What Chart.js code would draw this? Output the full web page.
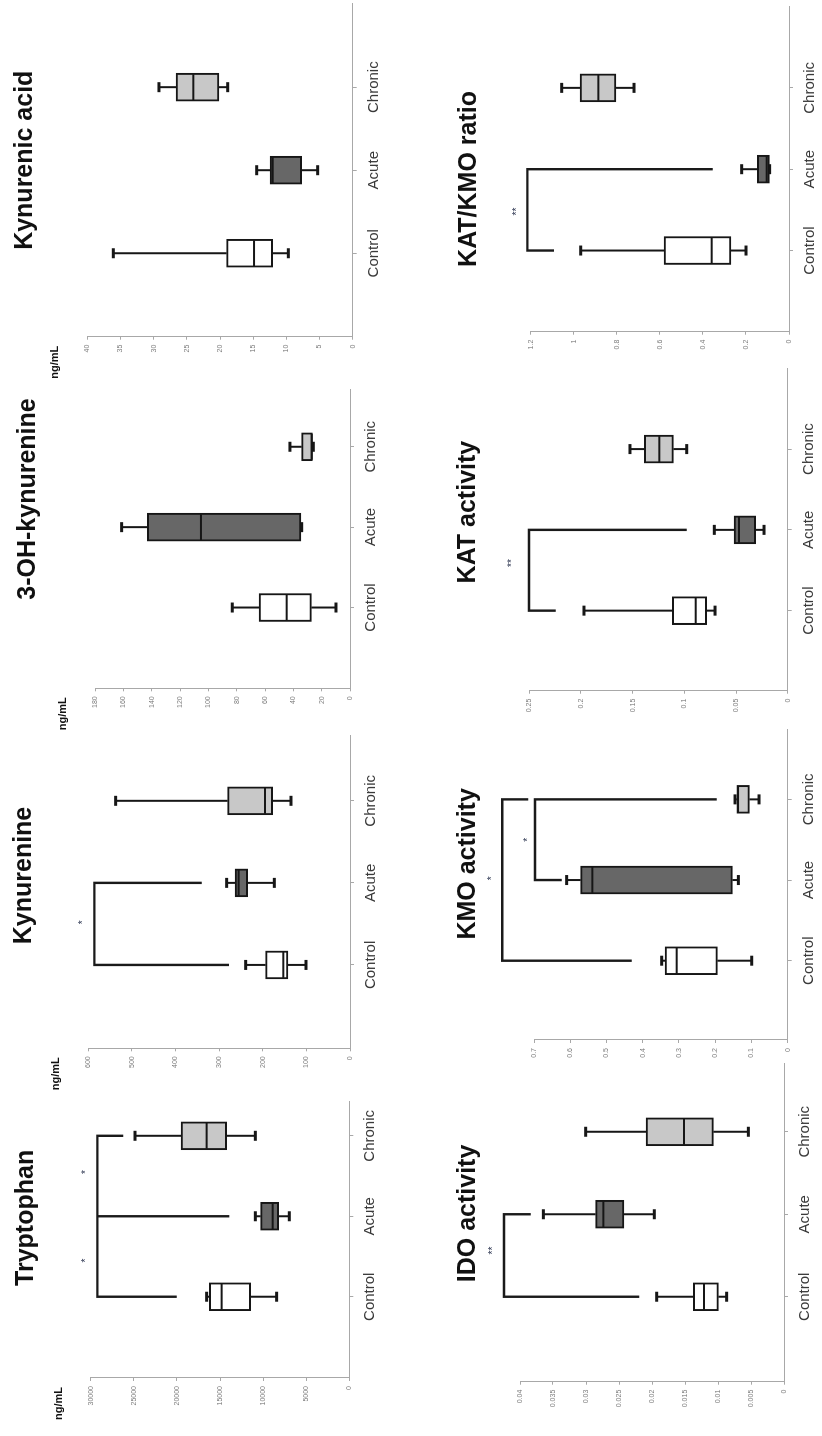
<!DOCTYPE html>
<html><head><meta charset="utf-8">
<script src="https://cdn.jsdelivr.net/npm/chart.js@4.4.1/dist/chart.umd.min.js"></script>
<style>
html,body{margin:0;padding:0;background:#fff;overflow:hidden;width:822px;height:1436px;}
#fig{position:absolute;left:0;top:0;width:1436px;height:822px;transform-origin:0 0;transform:translate(0px,1436px) rotate(-90deg);background:#fff;}
#fig canvas{position:absolute;}
</style></head><body><div id="fig"></div>
<script>
const categories = ['Control', 'Acute', 'Chronic'];
const boxColors = ['#ffffff', '#676767', '#c8c8c8'];

// each group: [lower whisker, Q1, median, Q3, upper whisker]
const tryptophanBoxes = [[8430, 11440, 14810, 16240, 16550], [6960, 8200, 8890, 10280, 10900], [10900, 14230, 16550, 19520, 24860]];
const tryptophanTicks = [0, 5000, 10000, 15000, 20000, 25000, 30000];
const tryptophanBrackets = [[29230, [[0, 20030], [1, 13920], [2, 26210]]]];
const tryptophanStars = [[0.45, 30700, '*'], [1.55, 30700, '*']];

const kynurenineBoxes = [[100.9, 142.2, 152.9, 193.4, 239.2], [173.5, 234.6, 255.3, 263.7, 282.8], [135.3, 177.3, 194.9, 280.5, 537.3]];
const kynurenineTicks = [0, 100, 200, 300, 400, 500, 600];
const kynurenineBrackets = [[586, [[0, 277.5], [1, 340]]]];
const kynurenineStars = [[0.52, 617, '*']];

const ohKynurenineBoxes = [[9.9, 27.3, 44.7, 64.2, 83.1], [34.1, 34.6, 105.2, 143.1, 161.2], [25.9, 26.6, 27.0, 34.1, 42.4]];
const ohKynurenineTicks = [0, 20, 40, 60, 80, 100, 120, 140, 160, 180];
const ohKynurenineBrackets = [];
const ohKynurenineStars = [];

const kynurenicBoxes = [[9.7, 12.06, 14.87, 19.0, 36.08], [5.28, 7.69, 12.06, 12.46, 14.47], [18.84, 20.15, 24.02, 26.63, 29.2]];
const kynurenicTicks = [0, 5, 10, 15, 20, 25, 30, 35, 40];
const kynurenicBrackets = [];
const kynurenicStars = [];

const idoBoxes = [[0.00869, 0.00995, 0.01212, 0.01374, 0.01929], [0.01965, 0.02424, 0.02737, 0.02854, 0.03646], [0.0054, 0.01071, 0.01515, 0.02091, 0.03005]];
const idoTicks = [0, 0.005, 0.01, 0.015, 0.02, 0.025, 0.03, 0.035, 0.04];
const idoBrackets = [[0.04242, [[0, 0.02192], [1, 0.03838]]]];
const idoStars = [[0.56, 0.0444, '**']];

const kmoBoxes = [[0.0993, 0.1941, 0.3063, 0.3385, 0.3477], [0.1361, 0.1527, 0.539, 0.5712, 0.6099], [0.0791, 0.1058, 0.137, 0.1407, 0.1453]];
const kmoTicks = [0, 0.1, 0.2, 0.3, 0.4, 0.5, 0.6, 0.7];
const kmoBrackets = [[0.7874, [[0, 0.4305], [2, 0.7156]]], [0.6972, [[1, 0.6237], [2, 0.1959]]]];
const kmoStars = [[1.02, 0.821, '*'], [1.5, 0.722, '*']];

const katBoxes = [[0.0703, 0.0784, 0.089, 0.1116, 0.1971], [0.0229, 0.031, 0.0471, 0.0519, 0.071], [0.0977, 0.1106, 0.1242, 0.1387, 0.1526]];
const katTicks = [0, 0.05, 0.1, 0.15, 0.2, 0.25];
const katBrackets = [[0.2503, [[0, 0.2245], [1, 0.0977]]]];
const katStars = [[0.59, 0.2687, '**']];

const ratioBoxes = [[0.1997, 0.2694, 0.3592, 0.5806, 0.9677], [0.09, 0.0914, 0.1037, 0.1471, 0.2199], [0.72, 0.8036, 0.8857, 0.9708, 1.056]];
const ratioTicks = [0, 0.2, 0.4, 0.6, 0.8, 1, 1.2];
const ratioBrackets = [[1.2155, [[0, 1.0916], [1, 0.3546]]]];
const ratioStars = [[0.48, 1.273, '**']];

const titles = ['Tryptophan', 'Kynurenine', '3-OH-kynurenine', 'Kynurenic acid', 'IDO activity', 'KMO activity', 'KAT activity', 'KAT/KMO ratio'];
const unitLabel = 'ng/mL';

const FONT = '"Liberation Sans", Arial, sans-serif';

// layout (unrotated frame): plot-area edges, category range, title placement
const panels = [
  {boxes: tryptophanBoxes, ticks: tryptophanTicks, brackets: tryptophanBrackets, stars: tryptophanStars, unit: true, left: 58, right: 334, top: 90.7, zero: 349.3, xMin: -1.01, xMax: 2.42, titleX: 0.98, titleY: 33, row: 0},
  {boxes: kynurenineBoxes, ticks: kynurenineTicks, brackets: kynurenineBrackets, stars: kynurenineStars, unit: true, left: 387.7, right: 700, top: 88.3, zero: 350, xMin: -1.016, xMax: 2.79, titleX: 1.09, titleY: 31, row: 0},
  {boxes: ohKynurenineBoxes, ticks: ohKynurenineTicks, brackets: ohKynurenineBrackets, stars: ohKynurenineStars, unit: true, left: 747.7, right: 1046.7, top: 95, zero: 350, xMin: -1.005, xMax: 2.715, titleX: 1.35, titleY: 35, row: 0},
  {boxes: kynurenicBoxes, ticks: kynurenicTicks, brackets: kynurenicBrackets, stars: kynurenicStars, unit: true, left: 1099.3, right: 1432.7, top: 87.3, zero: 352.7, xMin: -1.005, xMax: 3.01, titleX: 1.12, titleY: 32, row: 0},
  {boxes: idoBoxes, ticks: idoTicks, brackets: idoBrackets, stars: idoStars, unit: false, left: 54.3, right: 372.7, top: 520, zero: 784, xMin: -1.03, xMax: 2.83, titleX: 1.01, titleY: 475, row: 1},
  {boxes: kmoBoxes, ticks: kmoTicks, brackets: kmoBrackets, stars: kmoStars, unit: false, left: 396, right: 706, top: 534, zero: 787.7, xMin: -0.983, xMax: 2.86, titleX: 1.2, titleY: 475, row: 1},
  {boxes: katBoxes, ticks: katTicks, brackets: katBrackets, stars: katStars, unit: false, left: 745.3, right: 1067.7, top: 529.3, zero: 787.7, xMin: -0.991, xMax: 3.0, titleX: 1.22, titleY: 475, row: 1},
  {boxes: ratioBoxes, ticks: ratioTicks, brackets: ratioBrackets, stars: ratioStars, unit: false, left: 1104.3, right: 1429.3, top: 530.7, zero: 789, xMin: -0.998, xMax: 2.998, titleX: 0.88, titleY: 476, row: 1}
];

function fmt(v) { return String(parseFloat(Number(v).toFixed(6))); }

const boxPlotPlugin = {
  id: 'boxDetails',
  afterDatasetsDraw(chart, args, o) {
    const ctx = chart.ctx, x = chart.scales.x, y = chart.scales.y;
    const line = (a, b, c, d) => { ctx.beginPath(); ctx.moveTo(a, b); ctx.lineTo(c, d); ctx.stroke(); };
    ctx.save();
    ctx.strokeStyle = '#161616';
    ctx.lineCap = 'butt';
    o.boxes.forEach((b, i) => {
      const cx = x.getPixelForValue(i);
      const lo = y.getPixelForValue(b[0]), q1 = y.getPixelForValue(b[1]), md = y.getPixelForValue(b[2]), q3 = y.getPixelForValue(b[3]), hi = y.getPixelForValue(b[4]);
      ctx.lineWidth = 2;
      line(cx, q3, cx, hi);
      line(cx, q1, cx, lo);
      ctx.lineWidth = 3;
      line(cx - 5, hi, cx + 5, hi);
      line(cx - 5, lo, cx + 5, lo);
      ctx.lineWidth = 2;
      line(cx - 13, md, cx + 13, md);
    });
    ctx.lineWidth = 2.4;
    ctx.lineJoin = 'miter';
    ctx.strokeStyle = '#1a1a1a';
    o.brackets.forEach(([top, drops]) => {
      const ty = y.getPixelForValue(top);
      const first = drops[0], last = drops[drops.length - 1];
      ctx.beginPath();
      ctx.moveTo(x.getPixelForValue(first[0]), y.getPixelForValue(first[1]));
      ctx.lineTo(x.getPixelForValue(first[0]), ty);
      ctx.lineTo(x.getPixelForValue(last[0]), ty);
      ctx.lineTo(x.getPixelForValue(last[0]), y.getPixelForValue(last[1]));
      ctx.stroke();
      drops.slice(1, -1).forEach(([c, v]) => line(x.getPixelForValue(c), ty, x.getPixelForValue(c), y.getPixelForValue(v)));
    });
    ctx.fillStyle = '#2c3550';
    ctx.font = '10px ' + FONT;
    ctx.textAlign = 'center';
    ctx.textBaseline = 'middle';
    o.stars.forEach(([c, v, s]) => ctx.fillText(s, x.getPixelForValue(c), y.getPixelForValue(v) + 2));
    // panel title
    ctx.fillStyle = '#111';
    ctx.font = 'bold 25px ' + FONT;
    ctx.textAlign = 'center';
    ctx.textBaseline = 'alphabetic';
    ctx.fillText(o.title, x.getPixelForValue(o.titleX), o.titleY);
    if (o.unit) {
      ctx.font = 'bold 11px ' + FONT;
      ctx.textAlign = 'right';
      ctx.fillText(unitLabel, chart.chartArea.left - 9, chart.chartArea.top - 29);
    }
    ctx.restore();
  }
};

const fig = document.getElementById('fig');
panels.forEach((p, k) => {
  const cTop = p.row === 0 ? 0 : 411;
  const cBottom = cTop + 411;
  const cLeft = Math.floor(p.left) - 62;
  const cRight = Math.ceil(p.right) + 2;
  const cv = document.createElement('canvas');
  cv.width = cRight - cLeft;
  cv.height = cBottom - cTop;
  cv.style.left = cLeft + 'px';
  cv.style.top = cTop + 'px';
  cv.style.width = cv.width + 'px';
  cv.style.height = cv.height + 'px';
  fig.appendChild(cv);
  const tickVals = p.ticks;
  new Chart(cv, {
    type: 'bar',
    data: {
      datasets: [{
        data: p.boxes.map((b, i) => ({x: i, y: [b[1], b[3]]})),
        backgroundColor: boxColors,
        borderColor: '#161616',
        borderWidth: 2,
        borderSkipped: false,
        barThickness: 28
      }]
    },
    options: {
      responsive: false,
      animation: false,
      events: [],
      layout: {padding: {top: p.top - cTop, left: 0, right: cRight - p.right, bottom: 0}},
      plugins: {
        legend: {display: false},
        tooltip: {enabled: false},
        title: {display: false},
        boxDetails: {boxes: p.boxes, brackets: p.brackets, stars: p.stars, title: titles[k], titleX: p.titleX, titleY: p.titleY - cTop, unit: p.unit}
      },
      scales: {
        x: {
          type: 'linear', min: p.xMin, max: p.xMax, offset: false,
          afterBuildTicks: s => { s.ticks = [0, 1, 2].map(v => ({value: v})); },
          afterFit: s => { s.height = cBottom - p.zero; },
          grid: {display: true, drawOnChartArea: false, drawTicks: true, tickLength: 4, color: '#a8a8a8', offset: false},
          border: {display: true, color: '#a8a8a8', width: 1},
          ticks: {callback: v => categories[v], font: {family: FONT, size: 15}, color: '#3a3a3a', padding: 8, maxRotation: 0, autoSkip: false}
        },
        y: {
          type: 'linear', min: 0, max: tickVals[tickVals.length - 1],
          afterBuildTicks: s => { s.ticks = tickVals.map(v => ({value: v})); },
          afterFit: s => { s.width = p.left - cLeft; },
          grid: {display: true, drawOnChartArea: false, drawTicks: true, tickLength: 3, color: '#a8a8a8'},
          border: {display: true, color: '#a8a8a8', width: 1},
          ticks: {callback: v => fmt(v), font: {family: FONT, size: 7}, color: '#7d7d7d', padding: 5, autoSkip: false}
        }
      }
    },
    plugins: [boxPlotPlugin]
  });
});
</script></body></html>
